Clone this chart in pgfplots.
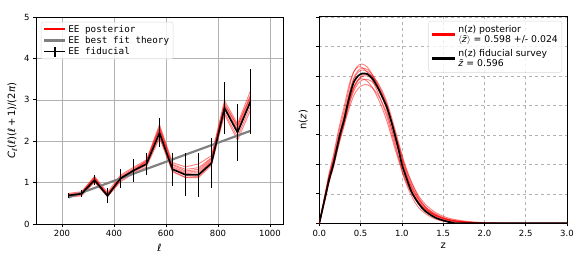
\documentclass[border=0pt]{standalone}
\usepackage{pgfplots}
\pgfplotsset{compat=1.18}
\usepackage{fontspec}
\setmainfont{DejaVu Sans}
\newfontfamily\monofont{DejaVu Sans Mono}
\definecolor{mplred}{RGB}{255,0,0}

\pgfplotsset{
  mpl/.style={
    scale only axis,
    axis line style={line width=0.7pt},
    tick style={line width=0.7pt, black},
    tick align=outside,
    tick pos=left,
    major tick length=3pt,
    tick label style={font=\fontsize{8.5}{10}\selectfont},
    label style={font=\fontsize{10}{12}\selectfont},
    /pgf/number format/assume math mode=true,
    /pgf/number format/1000 sep={},
    scaled ticks=false,
    grid=major,
  },
  red post/.style={mplred, line width=0.9pt, opacity=0.5, forget plot},
}
\newcommand{\ellit}{\textit{ℓ}}
\newcommand{\zbar}{\textit{z̄}}

\begin{document}
\begin{tikzpicture}
\path[use as bounding box] (0,0) rectangle (581pt,262pt);

% ---------------- left panel ----------------
\begin{axis}[mpl,
  at={(36pt,38pt)}, anchor=south west, width=247pt, height=207pt,
  xmin=100, xmax=1050, ymin=0, ymax=5,
  xtick={200,400,600,800,1000}, ytick={0,1,2,3,4,5},
  grid style={line width=0.6pt, black!30},
  xlabel={\ellit},
  ylabel={\textit{C}\raisebox{-2pt}{\fontsize{7}{8}\selectfont\ellit}(\ellit)(\ellit\,+\,1)/(2\textit{π})},
  legend style={at={(0.02,0.976)}, anchor=north west, draw=black!15,
    rounded corners=2pt, fill=white, fill opacity=0.8, text opacity=1,
    font=\monofont\fontsize{9.3}{11}\selectfont, row sep=-1.5pt,
    inner xsep=2pt, inner ysep=1pt},
  legend cell align=left,
]
\addlegendimage{legend image code/.code={\draw[draw=mplred, line width=2pt, opacity=1, draw opacity=1] (0pt,0pt) -- (21pt,0pt);}}
\addlegendentry{EE posterior}
\addlegendimage{legend image code/.code={\draw[gray, line width=2.2pt] (0pt,0pt) -- (21pt,0pt);}}
\addlegendentry{EE best fit theory}
\addlegendimage{legend image code/.code={
  \draw[black, line width=1.6pt] (0pt,0pt) -- (21pt,0pt);
  \draw[black, line width=1.6pt] (10.5pt,-5pt) -- (10.5pt,5pt);}}
\addlegendentry{EE fiducial}

\addplot[red post] coordinates {(225,0.70)(275,0.74)(325,1.10)(375,0.70)(425,1.12)(475,1.30)(525,1.48)(575,2.30)(625,1.38)(675,1.25)(725,1.28)(775,1.55)(825,2.85)(875,2.30)(925,3.05)};
\addplot[red post] coordinates {(225,0.66)(275,0.70)(325,1.03)(375,0.67)(425,1.05)(475,1.25)(525,1.42)(575,2.12)(625,1.28)(675,1.13)(725,1.15)(775,1.45)(825,2.70)(875,2.10)(925,2.85)};
\addplot[red post] coordinates {(225,0.74)(275,0.78)(325,1.15)(375,0.76)(425,1.18)(475,1.37)(525,1.55)(575,2.40)(625,1.48)(675,1.38)(725,1.45)(775,1.65)(825,2.98)(875,2.42)(925,3.22)};
\addplot[red post] coordinates {(225,0.68)(275,0.72)(325,1.05)(375,0.72)(425,1.08)(475,1.27)(525,1.45)(575,2.22)(625,1.32)(675,1.18)(725,1.20)(775,1.50)(825,2.78)(875,2.22)(925,2.95)};
\addplot[red post] coordinates {(225,0.72)(275,0.76)(325,1.12)(375,0.68)(425,1.15)(475,1.34)(525,1.52)(575,2.35)(625,1.44)(675,1.32)(725,1.36)(775,1.60)(825,2.92)(875,2.35)(925,3.12)};
\addplot[red post] coordinates {(225,0.65)(275,0.68)(325,1.01)(375,0.66)(425,1.02)(475,1.22)(525,1.38)(575,2.08)(625,1.26)(675,1.12)(725,1.12)(775,1.42)(825,2.65)(875,2.02)(925,2.75)};
\addplot[red post] coordinates {(225,0.71)(275,0.73)(325,1.08)(375,0.74)(425,1.10)(475,1.32)(525,1.50)(575,2.26)(625,1.35)(675,1.22)(725,1.24)(775,1.52)(825,2.82)(875,2.26)(925,3.00)};
\addplot[red post] coordinates {(225,0.69)(275,0.75)(325,1.13)(375,0.71)(425,1.14)(475,1.28)(525,1.53)(575,2.32)(625,1.42)(675,1.28)(725,1.32)(775,1.58)(825,2.88)(875,2.38)(925,3.08)};

\addplot[gray, line width=2.2pt, forget plot] coordinates {(225,0.64)(925,2.25)};

\addplot[black, line width=1.6pt, forget plot,
  error bars/.cd, y dir=both, y explicit,
  error bar style={line width=1.6pt, black}, error mark=none]
 coordinates {
 (225,0.69) +- (0,0.06)
 (275,0.73) +- (0,0.08)
 (325,1.06) +- (0,0.12)
 (375,0.68) +- (0,0.18)
 (425,1.10) +- (0,0.24)
 (475,1.29) +- (0,0.27)
 (525,1.45) +- (0,0.26)
 (575,2.20) +- (0,0.35)
 (625,1.32) +- (0,0.40)
 (675,1.19) +- (0,0.52)
 (725,1.19) +- (0,0.53)
 (775,1.47) +- (0,0.60)
 (825,2.80) +- (0,0.63)
 (875,2.21) +- (0,0.68)
 (925,2.96) +- (0,0.78)
 };
\node[anchor=south west, inner sep=0pt, font=\fontsize{8.5}{10}\selectfont] at (rel axis cs:0,1) [yshift=3pt] {1e−5};
\end{axis}

% ---------------- right panel ----------------
\begin{axis}[mpl,
  at={(319.3pt,38.7pt)}, anchor=south west, width=247.7pt, height=207.3pt,
  xmin=0, xmax=3, ymin=0, ymax=7.03,
  xtick={0,0.5,1,1.5,2,2.5,3}, ytick={0,1,2,3,4,5,6,7}, yticklabels={},
  xticklabel style={/pgf/number format/.cd, fixed, fixed zerofill, precision=1},
  grid style={line width=0.6pt, black!30, dashed},
  xlabel={z}, ylabel={n(\textit{z})},
  y label style={at={(axis description cs:-0.065,0.5)}, anchor=center},
  legend style={at={(0.98,0.976)}, anchor=north east, draw=black!15,
    rounded corners=2pt, fill=white, fill opacity=0.8, text opacity=1,
    font=\fontsize{9.3}{10.5}\selectfont, row sep=1pt,
    inner xsep=2pt, inner ysep=2pt,
    nodes={align=left}},
  legend cell align=left,
]
\addlegendimage{legend image code/.code={\draw[mplred, line width=2.6pt] (0pt,0pt) -- (23pt,0pt);}}
\addlegendentry[align=left]{n(z) posterior\\$\langle$\zbar$\rangle$ = 0.598 +/- 0.024}
\addlegendimage{legend image code/.code={\draw[black, line width=2.6pt] (0pt,0pt) -- (23pt,0pt);}}
\addlegendentry[align=left]{n(z) fiducial survey\\\zbar{} = 0.596}

\addplot[red post, smooth] coordinates {(0,0)(0.04,0.55)(0.08,1.1)(0.12,1.65)(0.17,2.2)(0.21,2.75)(0.25,3.25)(0.3,3.8)(0.34,4.3)(0.38,4.8)(0.42,5.15)(0.47,5.35)(0.52,5.4)(0.58,5.3)(0.64,5.05)(0.7,4.7)(0.76,4.3)(0.82,3.8)(0.87,3.25)(0.92,2.7)(0.97,2.15)(1.02,1.6)(1.08,1.15)(1.15,0.75)(1.22,0.48)(1.3,0.3)(1.4,0.15)(1.5,0.07)(1.65,0.02)(1.8,0)(3,0)};
\addplot[red post, smooth] coordinates {(0,0)(0.04,0.45)(0.08,0.92)(0.12,1.4)(0.17,1.88)(0.21,2.35)(0.25,2.8)(0.3,3.3)(0.34,3.7)(0.38,4.05)(0.42,4.35)(0.47,4.57)(0.52,4.68)(0.58,4.7)(0.64,4.6)(0.7,4.4)(0.76,4.1)(0.82,3.7)(0.87,3.25)(0.92,2.8)(0.97,2.35)(1.02,1.9)(1.08,1.45)(1.15,1.05)(1.22,0.75)(1.3,0.52)(1.4,0.33)(1.5,0.2)(1.6,0.12)(1.75,0.06)(1.9,0.02)(2.1,0)(3,0)};
\addplot[red post, smooth] coordinates {(0,0)(0.04,0.5)(0.08,1.0)(0.12,1.52)(0.17,2.05)(0.21,2.55)(0.25,3.05)(0.3,3.6)(0.34,4.1)(0.38,4.55)(0.42,4.9)(0.47,5.12)(0.52,5.2)(0.58,5.15)(0.64,4.98)(0.7,4.7)(0.76,4.35)(0.82,3.92)(0.87,3.42)(0.92,2.9)(0.97,2.38)(1.02,1.85)(1.08,1.38)(1.15,0.95)(1.22,0.65)(1.3,0.42)(1.4,0.24)(1.5,0.13)(1.6,0.07)(1.75,0.03)(1.9,0.01)(2.0,0)(3,0)};
\addplot[red post, smooth] coordinates {(0,0)(0.04,0.55)(0.08,1.08)(0.12,1.6)(0.17,2.12)(0.21,2.6)(0.25,3.05)(0.3,3.55)(0.34,3.98)(0.38,4.35)(0.42,4.65)(0.47,4.85)(0.52,4.9)(0.58,4.82)(0.64,4.62)(0.7,4.3)(0.76,3.92)(0.82,3.45)(0.87,2.98)(0.92,2.5)(0.97,2.05)(1.02,1.62)(1.08,1.22)(1.15,0.88)(1.22,0.62)(1.3,0.43)(1.4,0.27)(1.5,0.17)(1.6,0.1)(1.75,0.05)(1.9,0.02)(2.1,0.005)(2.4,0)(3,0)};
\addplot[red post, smooth] coordinates {(0,0)(0.04,0.48)(0.08,0.96)(0.12,1.45)(0.17,1.95)(0.21,2.42)(0.25,2.88)(0.3,3.4)(0.34,3.85)(0.38,4.25)(0.42,4.58)(0.47,4.85)(0.52,4.98)(0.58,5.0)(0.64,4.9)(0.7,4.68)(0.76,4.38)(0.82,3.98)(0.87,3.52)(0.92,3.02)(0.97,2.5)(1.02,1.98)(1.08,1.48)(1.15,1.02)(1.22,0.7)(1.3,0.46)(1.4,0.27)(1.5,0.15)(1.6,0.08)(1.75,0.03)(1.9,0.01)(2.0,0)(3,0)};
\addplot[red post, smooth] coordinates {(0,0)(0.04,0.58)(0.08,1.15)(0.12,1.72)(0.17,2.3)(0.21,2.85)(0.25,3.38)(0.3,3.95)(0.34,4.45)(0.38,4.88)(0.42,5.15)(0.47,5.3)(0.52,5.28)(0.58,5.12)(0.64,4.85)(0.7,4.5)(0.76,4.08)(0.82,3.6)(0.87,3.1)(0.92,2.6)(0.97,2.12)(1.02,1.68)(1.08,1.28)(1.15,0.92)(1.22,0.65)(1.3,0.45)(1.4,0.28)(1.5,0.17)(1.6,0.1)(1.75,0.05)(1.9,0.02)(2.1,0.005)(2.3,0)(3,0)};
\addplot[red post, smooth] coordinates {(0,0)(0.04,0.52)(0.08,1.04)(0.12,1.56)(0.17,2.1)(0.21,2.62)(0.25,3.12)(0.3,3.66)(0.34,4.15)(0.38,4.6)(0.42,4.95)(0.47,5.18)(0.52,5.26)(0.58,5.22)(0.64,5.05)(0.7,4.78)(0.76,4.44)(0.82,4.02)(0.87,3.55)(0.92,3.05)(0.97,2.55)(1.02,2.05)(1.08,1.55)(1.15,1.1)(1.22,0.76)(1.3,0.5)(1.4,0.3)(1.5,0.18)(1.6,0.1)(1.75,0.04)(1.9,0.015)(2.1,0)(3,0)};
\addplot[red post, smooth] coordinates {(0,0)(0.04,0.47)(0.08,0.95)(0.12,1.44)(0.17,1.93)(0.21,2.4)(0.25,2.86)(0.3,3.36)(0.34,3.8)(0.38,4.18)(0.42,4.5)(0.47,4.74)(0.52,4.86)(0.58,4.88)(0.64,4.8)(0.7,4.6)(0.76,4.3)(0.82,3.92)(0.87,3.48)(0.92,3.02)(0.97,2.55)(1.02,2.08)(1.08,1.62)(1.15,1.2)(1.22,0.86)(1.3,0.6)(1.4,0.38)(1.5,0.24)(1.6,0.15)(1.75,0.08)(1.9,0.04)(2.1,0.01)(2.4,0)(3,0)};
\addplot[red post, smooth] coordinates {(0,0)(0.04,0.53)(0.08,1.06)(0.12,1.58)(0.17,2.08)(0.21,2.56)(0.25,3.0)(0.3,3.48)(0.34,3.9)(0.38,4.3)(0.42,4.62)(0.47,4.88)(0.52,5.02)(0.58,5.08)(0.64,5.0)(0.7,4.8)(0.76,4.5)(0.82,4.1)(0.87,3.65)(0.92,3.15)(0.97,2.65)(1.02,2.15)(1.08,1.66)(1.15,1.18)(1.22,0.8)(1.3,0.52)(1.4,0.3)(1.5,0.17)(1.6,0.09)(1.75,0.04)(1.9,0.01)(2.1,0)(3,0)};

\addplot[black, line width=1.7pt, smooth, forget plot] coordinates {(0,0)(0.04,0.5)(0.08,1.0)(0.12,1.5)(0.17,2.0)(0.21,2.5)(0.25,3.0)(0.3,3.5)(0.34,4.0)(0.38,4.45)(0.42,4.8)(0.47,5.0)(0.52,5.08)(0.58,5.06)(0.64,4.92)(0.7,4.65)(0.76,4.3)(0.82,3.92)(0.87,3.47)(0.915,3.0)(0.96,2.5)(1.0,2.0)(1.06,1.5)(1.12,1.05)(1.2,0.68)(1.28,0.42)(1.4,0.2)(1.52,0.08)(1.62,0.02)(1.72,0)(3,0)};
\end{axis}
\end{tikzpicture}
\end{document}
